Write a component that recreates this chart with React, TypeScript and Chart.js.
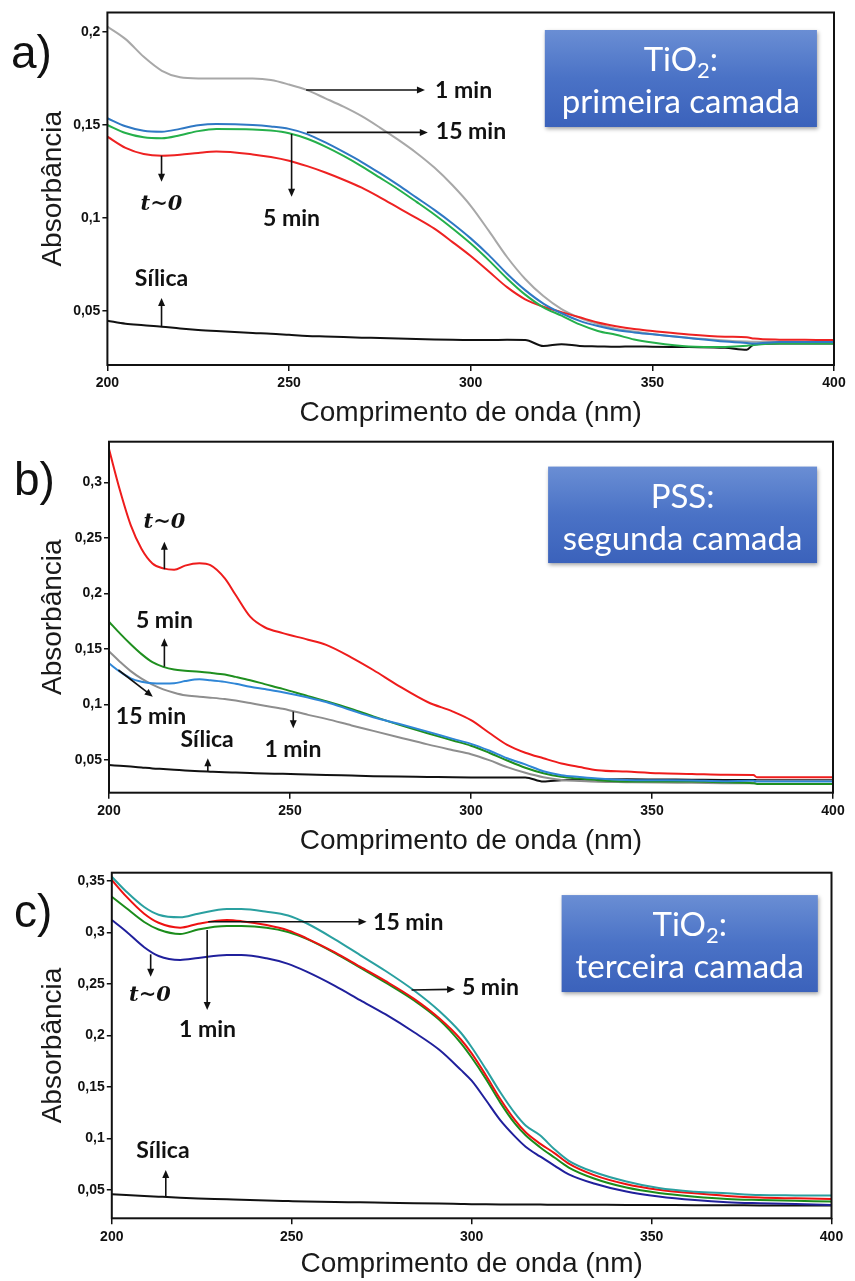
import React, { useEffect, useRef } from 'react';
import { Chart, registerables } from 'chart.js';

Chart.register(...registerables);

// ---------- shared tick labels ----------
const X_TICKS = [200, 250, 300, 350, 400];
const A_Y_TICKS = [0.05, 0.1, 0.15, 0.2];
const B_Y_TICKS = [0.05, 0.1, 0.15, 0.2, 0.25, 0.3];
const C_Y_TICKS = [0.05, 0.1, 0.15, 0.2, 0.25, 0.3, 0.35];

// ---------- panel a) TiO2 primeira camada ----------
const A_WL = [200, 205, 210, 215, 220, 225, 230, 240, 245, 250, 255, 260, 265, 270, 275, 280, 285, 290, 295, 300, 305, 310, 315, 320, 325, 330, 335, 340, 345, 350, 360, 370, 376, 378, 385, 392, 400];
const A_1MIN = [0.2027, 0.196, 0.1865, 0.179, 0.1755, 0.1749, 0.1749, 0.1748, 0.174, 0.1716, 0.1686, 0.1642, 0.1597, 0.1546, 0.1485, 0.142, 0.135, 0.127, 0.1175, 0.1065, 0.093, 0.079, 0.0672, 0.058, 0.051, 0.0463, 0.043, 0.0405, 0.039, 0.0376, 0.0356, 0.0342, 0.0336, 0.0335, 0.0335, 0.0334, 0.0334];
const A_15MIN = [0.1535, 0.1492, 0.1468, 0.1463, 0.1478, 0.1497, 0.1504, 0.1499, 0.1491, 0.1478, 0.145, 0.1405, 0.1354, 0.13, 0.124, 0.1177, 0.111, 0.1043, 0.097, 0.089, 0.08, 0.07, 0.0612, 0.054, 0.0488, 0.0447, 0.0419, 0.0398, 0.0385, 0.0375, 0.0355, 0.0336, 0.0328, 0.0326, 0.0334, 0.0334, 0.0334];
const A_5MIN = [0.1499, 0.1456, 0.1433, 0.1428, 0.1444, 0.1466, 0.1477, 0.1475, 0.1469, 0.1455, 0.1425, 0.1383, 0.1333, 0.1277, 0.1216, 0.1154, 0.1087, 0.1018, 0.0943, 0.0862, 0.0772, 0.0675, 0.0588, 0.052, 0.0475, 0.0428, 0.0393, 0.0372, 0.0347, 0.0331, 0.031, 0.0307, 0.0313, 0.0318, 0.0326, 0.0326, 0.0326];
const A_T0 = [0.1436, 0.1376, 0.1343, 0.1334, 0.1339, 0.1349, 0.1356, 0.1341, 0.1327, 0.1307, 0.1278, 0.1244, 0.1205, 0.1162, 0.111, 0.1055, 0.1, 0.0942, 0.087, 0.0795, 0.0712, 0.0628, 0.0563, 0.0523, 0.0494, 0.0466, 0.0438, 0.0418, 0.0403, 0.0393, 0.0374, 0.0362, 0.0359, 0.0352, 0.0346, 0.0345, 0.0344];
const A_SILICA = [0.0448, 0.0432, 0.0424, 0.0416, 0.0406, 0.0398, 0.0392, 0.0382, 0.0378, 0.0372, 0.0366, 0.0363, 0.036, 0.0357, 0.0355, 0.0352, 0.035, 0.0347, 0.0345, 0.0344, 0.0344, 0.0345, 0.0344, 0.0312, 0.0322, 0.0312, 0.031, 0.0308, 0.031, 0.0308, 0.0306, 0.0302, 0.0292, 0.0322, 0.0326, 0.0326, 0.0326];

// ---------- panel b) PSS segunda camada ----------
const B_WL = [200, 203, 206, 209, 212, 215, 218, 221, 225, 228, 232, 235, 239, 243, 248, 255, 260, 267, 273, 280, 288, 295, 300, 305, 310, 315, 320, 325, 330, 335, 343, 352, 361, 370, 378, 379, 390, 400];
const B_T0 = [0.33, 0.2931, 0.2615, 0.24, 0.227, 0.2225, 0.2212, 0.225, 0.2271, 0.2254, 0.2135, 0.1985, 0.179, 0.1695, 0.1642, 0.1583, 0.1536, 0.1422, 0.131, 0.1168, 0.1022, 0.0935, 0.0858, 0.0745, 0.0636, 0.0565, 0.0515, 0.0468, 0.0436, 0.0408, 0.0395, 0.038, 0.0374, 0.0366, 0.0365, 0.0344, 0.0344, 0.0344];
const B_5MIN = [0.1745, 0.164, 0.1542, 0.1453, 0.138, 0.1338, 0.1314, 0.1304, 0.1295, 0.1285, 0.1269, 0.1248, 0.1218, 0.1183, 0.114, 0.1075, 0.103, 0.096, 0.0892, 0.0818, 0.074, 0.0675, 0.0628, 0.0565, 0.0495, 0.043, 0.038, 0.0348, 0.0332, 0.0318, 0.0305, 0.0305, 0.0305, 0.0298, 0.029, 0.0284, 0.0284, 0.0284];
const B_15MIN = [0.137, 0.1295, 0.1235, 0.1205, 0.119, 0.1188, 0.119, 0.121, 0.1226, 0.1218, 0.1203, 0.1186, 0.116, 0.1138, 0.111, 0.1062, 0.1022, 0.0947, 0.0885, 0.0826, 0.0755, 0.069, 0.0645, 0.0585, 0.0515, 0.046, 0.0398, 0.0363, 0.0347, 0.0333, 0.032, 0.0317, 0.0314, 0.0309, 0.0312, 0.0305, 0.0305, 0.0305];
const B_1MIN = [0.1478, 0.1385, 0.13, 0.1232, 0.1178, 0.1135, 0.1105, 0.1082, 0.107, 0.1061, 0.1048, 0.1036, 0.1012, 0.0988, 0.0961, 0.0906, 0.087, 0.0811, 0.0762, 0.0705, 0.064, 0.0588, 0.0552, 0.0498, 0.0435, 0.0384, 0.0344, 0.032, 0.0311, 0.0304, 0.03, 0.0296, 0.0294, 0.0291, 0.029, 0.0314, 0.0314, 0.0314];
const B_SILICA = [0.0454, 0.0447, 0.044, 0.0432, 0.0424, 0.0418, 0.0412, 0.0405, 0.0398, 0.0394, 0.0389, 0.0386, 0.0382, 0.0378, 0.0375, 0.0369, 0.0365, 0.0359, 0.0354, 0.035, 0.0347, 0.0344, 0.0343, 0.0343, 0.0343, 0.0343, 0.0305, 0.0318, 0.0322, 0.0325, 0.0326, 0.0324, 0.0322, 0.032, 0.032, 0.032, 0.032, 0.032];

// ---------- panel c) TiO2 terceira camada ----------
const C_WL = [200, 204, 209, 213, 219, 224, 232, 236, 243, 249, 254, 262, 269, 276, 284, 291, 297, 300, 304, 308, 312, 315, 319, 323, 327, 334, 343, 352, 362, 371, 380, 390, 400];
const C_5MIN = [0.3539, 0.3396, 0.3245, 0.317, 0.3145, 0.318, 0.3225, 0.3225, 0.32, 0.3163, 0.309, 0.2932, 0.2779, 0.2627, 0.2435, 0.2236, 0.2025, 0.1885, 0.167, 0.1445, 0.1245, 0.1125, 0.103, 0.0895, 0.0783, 0.0674, 0.0582, 0.0518, 0.0483, 0.0467, 0.0451, 0.0447, 0.0445];
const C_15MIN = [0.3507, 0.3348, 0.318, 0.3092, 0.3045, 0.3083, 0.3119, 0.3108, 0.307, 0.3018, 0.2944, 0.2805, 0.2666, 0.2528, 0.2354, 0.2165, 0.196, 0.1825, 0.161, 0.138, 0.118, 0.106, 0.095, 0.0858, 0.0755, 0.0644, 0.0556, 0.0502, 0.0467, 0.0442, 0.0426, 0.0419, 0.0413];
const C_1MIN = [0.3345, 0.3235, 0.31, 0.3027, 0.2983, 0.3027, 0.306, 0.306, 0.3045, 0.3003, 0.2938, 0.2798, 0.2657, 0.2513, 0.2338, 0.215, 0.1925, 0.1785, 0.1575, 0.1345, 0.1145, 0.103, 0.0915, 0.0815, 0.0717, 0.0611, 0.0523, 0.047, 0.0435, 0.0413, 0.0403, 0.0395, 0.0387];
const C_T0 = [0.3119, 0.3008, 0.2855, 0.277, 0.2731, 0.275, 0.2779, 0.2779, 0.2747, 0.2693, 0.262, 0.248, 0.2342, 0.2205, 0.203, 0.186, 0.1665, 0.156, 0.137, 0.1175, 0.102, 0.092, 0.0825, 0.0737, 0.0652, 0.0563, 0.0485, 0.0437, 0.0402, 0.0381, 0.0371, 0.0363, 0.0355];
const C_SILICA = [0.0458, 0.0451, 0.0442, 0.0435, 0.0425, 0.0418, 0.0409, 0.0404, 0.0397, 0.0392, 0.0388, 0.0383, 0.038, 0.0376, 0.0372, 0.0368, 0.0364, 0.0362, 0.0361, 0.036, 0.0359, 0.0358, 0.0358, 0.0357, 0.0357, 0.0356, 0.0355, 0.0354, 0.0352, 0.0351, 0.035, 0.0349, 0.0348];

// ---------- types ----------
type Series = { label: string; values: number[]; color: string };
type Note = { text: string; x: number; y: number; align?: 'left' | 'center'; math?: boolean };
type Arrow = [number, number, number, number];
type Part = { t: string; sub?: boolean };
type Panel = {
  letter: string;
  letterX: number;
  letterY: number;
  top: number;
  height: number;
  plotLeft: number;
  plotRight: number;
  plotTop: number;
  plotBottom: number;
  yMin: number;
  yMax: number;
  yTicks: number[];
  titlePad: number;
  wl: number[];
  series: Series[];
  arrows: Arrow[];
  notes: Note[];
  box: { x0: number; y0: number; x1: number; y1: number; line1: Part[]; line2: string };
};

const SANS = "'Liberation Sans', Arial, Helvetica, sans-serif";
const LABEL = "Lato, 'Open Sans', 'DejaVu Sans', sans-serif";
const MATH = "'DejaVu Serif', 'Liberation Serif', serif";

const PANELS: Panel[] = [
  {
    letter: 'a)', letterX: 11, letterY: 68,
    top: 0, height: 430, plotLeft: 107.4, plotRight: 834, plotTop: 12.5, plotBottom: 365,
    yMin: 0.021, yMax: 0.2103, yTicks: A_Y_TICKS, titlePad: 0,
    wl: A_WL,
    series: [
      { label: '15 min', values: A_15MIN, color: '#2f78c4' },
      { label: '5 min', values: A_5MIN, color: '#25b04b' },
      { label: 't~0', values: A_T0, color: '#ee2222' },
      { label: '1 min', values: A_1MIN, color: '#a8a8a8' },
      { label: 'Sílica', values: A_SILICA, color: '#111111' },
    ],
    arrows: [
      [254.7, 0.1687, 287.4, 0.1687],
      [254.9, 0.1459, 288.2, 0.1459],
      [250.7, 0.1451, 250.7, 0.1114],
      [214.9, 0.1334, 214.9, 0.1194],
      [214.9, 0.0419, 214.9, 0.057],
    ],
    notes: [
      { text: '1 min', x: 290.2, y: 0.1684, align: 'left' },
      { text: '15 min', x: 290.4, y: 0.1461, align: 'left' },
      { text: '5 min', x: 250.7, y: 0.0999 },
      { text: 't~0', x: 214.9, y: 0.1069, math: true },
      { text: 'Sílica', x: 214.9, y: 0.0672 },
    ],
    box: { x0: 320.4, y0: 0.2009, x1: 395.3, y1: 0.1488, line1: [{ t: 'TiO' }, { t: '2', sub: true }, { t: ':' }], line2: 'primeira camada' },
  },
  {
    letter: 'b)', letterX: 14, letterY: 65,
    top: 430, height: 430, plotLeft: 109, plotRight: 833, plotTop: 11.7, plotBottom: 362.7,
    yMin: 0.0205, yMax: 0.3366, yTicks: B_Y_TICKS, titlePad: 2,
    wl: B_WL,
    series: [
      { label: 't~0', values: B_T0, color: '#ee1c1c' },
      { label: '15 min', values: B_15MIN, color: '#2f86d6' },
      { label: '5 min', values: B_5MIN, color: '#1f8f1f' },
      { label: '1 min', values: B_1MIN, color: '#8e8e8e' },
      { label: 'Sílica', values: B_SILICA, color: '#111111' },
    ],
    arrows: [
      [215.3, 0.2217, 215.3, 0.2465],
      [215.3, 0.134, 215.3, 0.1596],
      [202.6, 0.131, 212.1, 0.107],
      [227.3, 0.0395, 227.3, 0.0515],
      [250.9, 0.0935, 250.9, 0.0785],
    ],
    notes: [
      { text: 't~0', x: 215.3, y: 0.2634, math: true },
      { text: '5 min', x: 215.3, y: 0.1751 },
      { text: '15 min', x: 211.6, y: 0.0887 },
      { text: 'Sílica', x: 227.1, y: 0.068 },
      { text: '1 min', x: 250.8, y: 0.059 },
    ],
    box: { x0: 321.3, y0: 0.3142, x1: 395.6, y1: 0.2273, line1: [{ t: 'PSS:' }], line2: 'segunda camada' },
  },
  {
    letter: 'c)', letterX: 14, letterY: 67,
    top: 860, height: 421, plotLeft: 111.8, plotRight: 831.5, plotTop: 12.7, plotBottom: 358.3,
    yMin: 0.0225, yMax: 0.3578, yTicks: C_Y_TICKS, titlePad: 0,
    wl: C_WL,
    series: [
      { label: '5 min', values: C_5MIN, color: '#2aa0a0' },
      { label: '15 min', values: C_15MIN, color: '#ee1111' },
      { label: '1 min', values: C_1MIN, color: '#1b8c1b' },
      { label: 't~0', values: C_T0, color: '#20209c' },
      { label: 'Sílica', values: C_SILICA, color: '#111111' },
    ],
    arrows: [
      [226.8, 0.3102, 270.8, 0.3102],
      [226.5, 0.3022, 226.5, 0.2246],
      [210.8, 0.2786, 210.8, 0.2569],
      [283.3, 0.244, 295.4, 0.2447],
      [215, 0.0435, 215, 0.0694],
    ],
    notes: [
      { text: '15 min', x: 272.6, y: 0.309, align: 'left' },
      { text: '1 min', x: 226.6, y: 0.2052 },
      { text: 't~0', x: 210.6, y: 0.2382, math: true },
      { text: '5 min', x: 297.3, y: 0.2459, align: 'left' },
      { text: 'Sílica', x: 214.2, y: 0.0878 },
    ],
    box: { x0: 325, y0: 0.3361, x1: 396.2, y1: 0.242, line1: [{ t: 'TiO' }, { t: '2', sub: true }, { t: ':' }], line2: 'terceira camada' },
  },
];

function drawArrow(ctx: CanvasRenderingContext2D, x0: number, y0: number, x1: number, y1: number) {
  const ang = Math.atan2(y1 - y0, x1 - x0);
  const L = 8;
  const W = 3.5;
  const c = Math.cos(ang);
  const s = Math.sin(ang);
  ctx.lineWidth = 1.6;
  ctx.beginPath();
  ctx.moveTo(x0, y0);
  ctx.lineTo(x1 - L * 0.7 * c, y1 - L * 0.7 * s);
  ctx.stroke();
  ctx.beginPath();
  ctx.moveTo(x1, y1);
  ctx.lineTo(x1 - L * c + W * s, y1 - L * s - W * c);
  ctx.lineTo(x1 - L * c - W * s, y1 - L * s + W * c);
  ctx.closePath();
  ctx.fill();
}

function makeDecor(p: Panel) {
  return {
    id: 'decor',
    afterDraw(chart: any) {
      const { ctx, chartArea: ca } = chart;
      const xs = chart.scales.x;
      const ys = chart.scales.y;
      const px = (v: number) => xs.getPixelForValue(v);
      const py = (v: number) => ys.getPixelForValue(v);
      ctx.save();
      // frame
      ctx.strokeStyle = '#111';
      ctx.lineWidth = 2;
      ctx.strokeRect(ca.left, ca.top, ca.right - ca.left, ca.bottom - ca.top);

      // blue box
      const bx0 = px(p.box.x0);
      const bx1 = px(p.box.x1);
      const by0 = py(p.box.y0);
      const by1 = py(p.box.y1);
      ctx.save();
      ctx.shadowColor = 'rgba(0,0,0,0.35)';
      ctx.shadowBlur = 4;
      ctx.shadowOffsetX = 1;
      ctx.shadowOffsetY = 2;
      const g = ctx.createLinearGradient(0, by0, 0, by1);
      g.addColorStop(0, '#6a8ed4');
      g.addColorStop(0.5, '#4a72c6');
      g.addColorStop(1, '#3b62bb');
      ctx.fillStyle = g;
      ctx.fillRect(bx0, by0, bx1 - bx0, by1 - by0);
      ctx.restore();

      const cx = (bx0 + bx1) / 2;
      ctx.fillStyle = '#ffffff';
      ctx.textBaseline = 'alphabetic';
      const big = `33px ${LABEL}`;
      const small = `22px ${LABEL}`;
      let w = 0;
      for (const part of p.box.line1) {
        ctx.font = part.sub ? small : big;
        w += ctx.measureText(part.t).width;
      }
      let x = cx - w / 2;
      ctx.textAlign = 'left';
      for (const part of p.box.line1) {
        ctx.font = part.sub ? small : big;
        ctx.fillText(part.t, x, by0 + 41 + (part.sub ? 7 : 0));
        x += ctx.measureText(part.t).width;
      }
      ctx.font = big;
      ctx.textAlign = 'center';
      ctx.fillText(p.box.line2, cx, by0 + 83);

      // arrows
      ctx.fillStyle = '#111';
      ctx.strokeStyle = '#111';
      for (const a of p.arrows) drawArrow(ctx, px(a[0]), py(a[1]), px(a[2]), py(a[3]));

      // notes
      ctx.textBaseline = 'middle';
      for (const n of p.notes) {
        ctx.font = n.math ? `italic bold 21px ${MATH}` : `bold 23px ${LABEL}`;
        ctx.textAlign = n.align === 'left' ? 'left' : 'center';
        ctx.fillText(n.text, px(n.x), py(n.y));
      }

      // panel letter
      ctx.font = `46px ${SANS}`;
      ctx.textAlign = 'left';
      ctx.textBaseline = 'alphabetic';
      ctx.fillStyle = '#111';
      ctx.fillText(p.letter, p.letterX, p.letterY);
      ctx.restore();
    },
  };
}

function buildConfig(p: Panel): any {
  return {
    type: 'line',
    data: {
      datasets: p.series.map((s) => ({
        label: s.label,
        data: p.wl.map((x, i) => ({ x, y: s.values[i] })),
        borderColor: s.color,
        backgroundColor: s.color,
        borderWidth: 2,
        pointRadius: 0,
        cubicInterpolationMode: 'monotone',
        fill: false,
      })),
    },
    options: {
      animation: false,
      responsive: false,
      maintainAspectRatio: false,
      events: [],
      layout: { padding: { left: 0, top: p.plotTop, right: 855 - p.plotRight, bottom: 0 } },
      plugins: { legend: { display: false }, tooltip: { enabled: false } },
      scales: {
        x: {
          type: 'linear',
          min: 200,
          max: 400,
          afterBuildTicks: (ax: any) => {
            ax.ticks = X_TICKS.map((value) => ({ value }));
          },
          afterFit: (ax: any) => {
            ax.height = p.height - p.plotBottom;
          },
          border: { display: false },
          grid: { display: true, drawOnChartArea: false, drawTicks: true, tickLength: 6, color: '#111', lineWidth: 1.5 },
          ticks: { color: '#111', font: { family: SANS, size: 14, weight: 'bold' }, padding: 4, maxRotation: 0, autoSkip: false },
          title: {
            display: true,
            text: 'Comprimento de onda (nm)',
            color: '#1a1a1a',
            font: { family: SANS, size: 28 },
            padding: { top: 0, bottom: p.titlePad },
          },
        },
        y: {
          type: 'linear',
          min: p.yMin,
          max: p.yMax,
          afterBuildTicks: (ax: any) => {
            ax.ticks = p.yTicks.map((value) => ({ value }));
          },
          afterFit: (ax: any) => {
            ax.width = p.plotLeft;
          },
          border: { display: false },
          grid: { display: true, drawOnChartArea: false, drawTicks: true, tickLength: 5, color: '#111', lineWidth: 1.5 },
          ticks: {
            color: '#111',
            font: { family: SANS, size: 14, weight: 'bold' },
            padding: 2,
            autoSkip: false,
            callback: (v: number) => String(v).replace('.', ','),
          },
          title: {
            display: true,
            text: 'Absorbância',
            color: '#1a1a1a',
            font: { family: SANS, size: 28 },
            padding: { top: 36, bottom: 0 },
          },
        },
      },
    },
    plugins: [makeDecor(p)],
  };
}

function PanelChart({ def }: { def: Panel }) {
  const ref = useRef<HTMLCanvasElement>(null);
  useEffect(() => {
    if (!ref.current) return;
    const chart = new Chart(ref.current, buildConfig(def));
    return () => chart.destroy();
  }, [def]);
  return (
    <canvas
      ref={ref}
      width={855}
      height={def.height}
      style={{ position: 'absolute', left: 0, top: def.top, width: 855, height: def.height, display: 'block' }}
    />
  );
}

export default function App() {
  return (
    <div style={{ position: 'absolute', left: 0, top: 0, width: 855, height: 1281, background: '#ffffff', overflow: 'hidden' }}>
      {PANELS.map((p) => (
        <PanelChart key={p.letter} def={p} />
      ))}
    </div>
  );
}
